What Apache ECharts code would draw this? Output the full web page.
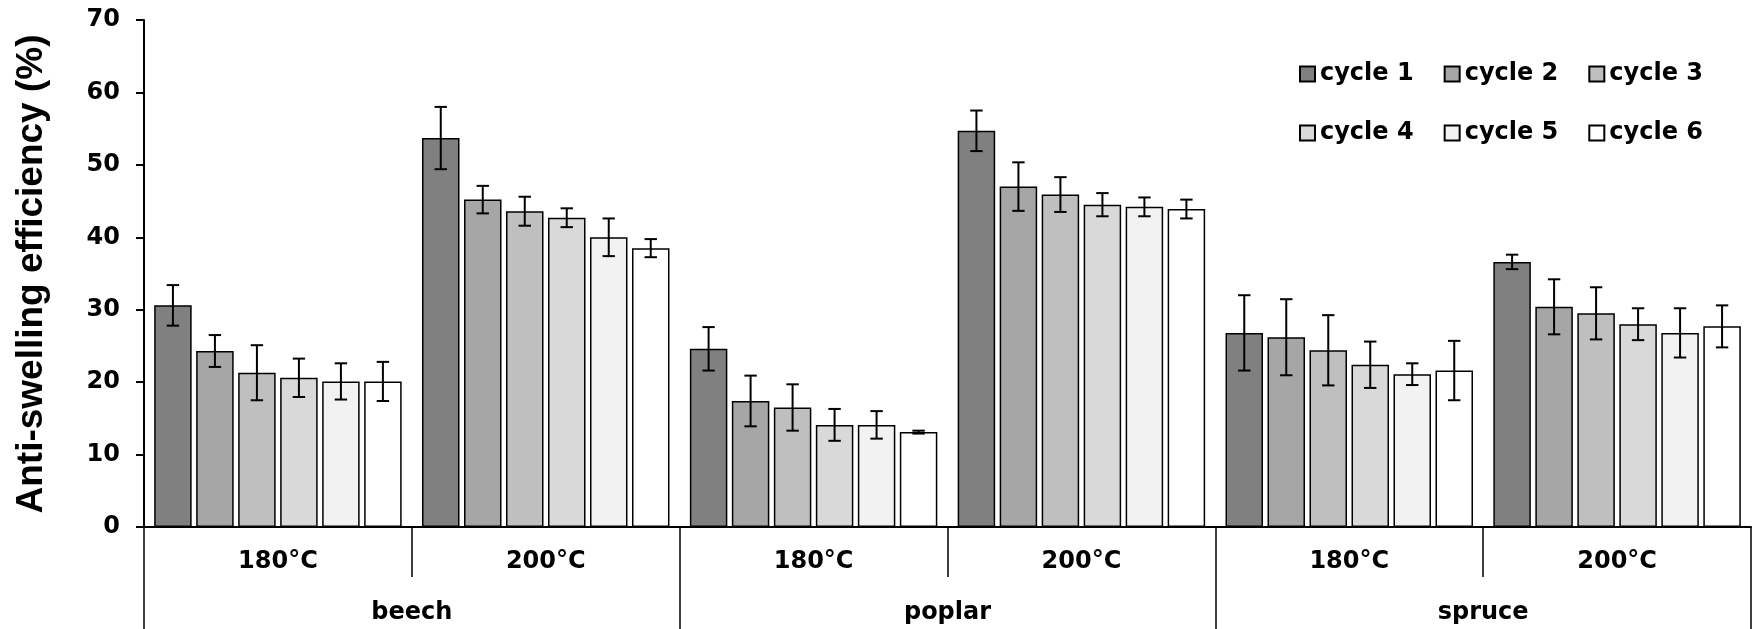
<!DOCTYPE html>
<html>
<head>
<meta charset="utf-8">
<script src="https://cdn.jsdelivr.net/npm/echarts@6/dist/echarts.min.js"></script>
<style>
html, body { margin: 0; padding: 0; background: #ffffff; }
#chart { width: 1756px; height: 629px; }
</style>
</head>
<body>
<div id="chart"></div>
<script>
// ---- data ----
const tempLabels = ['180°C', '200°C', '180°C', '200°C', '180°C', '200°C'];
const woodLabels = ['beech', 'poplar', 'spruce'];
const seriesNames = ['cycle 1', 'cycle 2', 'cycle 3', 'cycle 4', 'cycle 5', 'cycle 6'];
const yTicks = [0, 10, 20, 30, 40, 50, 60, 70];

const cycle1 = [30.6, 53.7, 24.6, 54.7, 26.8, 36.6];
const cycle2 = [24.3, 45.2, 17.4, 47.0, 26.2, 30.4];
const cycle3 = [21.3, 43.6, 16.5, 45.9, 24.4, 29.5];
const cycle4 = [20.6, 42.7, 14.1, 44.5, 22.4, 28.0];
const cycle5 = [20.1, 40.0, 14.1, 44.2, 21.1, 26.8];
const cycle6 = [20.1, 38.5, 13.1, 43.9, 21.6, 27.7];

const err1 = [2.8, 4.3, 3.0, 2.8, 5.2, 1.0];
const err2 = [2.2, 1.9, 3.5, 3.35, 5.25, 3.8];
const err3 = [3.8, 2.0, 3.2, 2.4, 4.85, 3.6];
const err4 = [2.65, 1.3, 2.2, 1.6, 3.2, 2.2];
const err5 = [2.5, 2.6, 1.9, 1.3, 1.5, 3.4];
const err6 = [2.7, 1.25, 0.2, 1.3, 4.1, 2.9];

// ---- styling ----
const colors = ['#808080', '#a6a6a6', '#bfbfbf', '#d9d9d9', '#f2f2f2', '#ffffff'];
const FONT = 'DejaVu Sans';
const CAT_GAP = 0.076;
const BAR_GAP = 0.12;
const N = 6;

const values = [cycle1, cycle2, cycle3, cycle4, cycle5, cycle6];
const errors = [err1, err2, err3, err4, err5, err6];

const barSeries = values.map((vals, i) => ({
  name: seriesNames[i],
  type: 'bar',
  xAxisIndex: 0,
  yAxisIndex: 0,
  data: vals,
  barCategoryGap: (CAT_GAP * 100) + '%',
  barGap: (BAR_GAP * 100) + '%',
  itemStyle: { color: colors[i], borderColor: '#000000', borderWidth: 1.5 },
  z: 2
}));

const errSeries = values.map((vals, i) => ({
  name: 'err ' + (i + 1),
  type: 'custom',
  xAxisIndex: 0,
  yAxisIndex: 0,
  z: 5,
  silent: true,
  encode: { x: 0, y: [1, 2] },
  data: vals.map((v, k) => [k, v - errors[i][k], v + errors[i][k]]),
  renderItem: function (params, api) {
    const k = api.value(0);
    const lo = api.value(1);
    const hi = api.value(2);
    const band = api.size([1, 0])[0];
    const usable = band * (1 - CAT_GAP);
    const bw = usable / (N + (N - 1) * BAR_GAP);
    const offset = -usable / 2 + i * bw * (1 + BAR_GAP) + bw / 2;
    const pTop = api.coord([k, hi]);
    const pBot = api.coord([k, lo]);
    const x = pTop[0] + offset;
    const cap = 6.2;
    const st = { stroke: '#000000', lineWidth: 2 };
    return {
      type: 'group',
      children: [
        { type: 'line', shape: { x1: x, y1: pTop[1], x2: x, y2: pBot[1] }, style: st },
        { type: 'line', shape: { x1: x - cap, y1: pTop[1], x2: x + cap, y2: pTop[1] }, style: st },
        { type: 'line', shape: { x1: x - cap, y1: pBot[1], x2: x + cap, y2: pBot[1] }, style: st }
      ]
    };
  }
}));

const legendText = { fontFamily: FONT, fontWeight: 'bold', fontSize: 24, color: '#000000' };

const option = {
  animation: false,
  backgroundColor: '#ffffff',
  grid: { left: 144, right: 5, top: 20, bottom: 102, containLabel: false },
  legend: [
    {
      data: seriesNames.slice(0, 3), left: 1299, top: 62, padding: 0, itemWidth: 15, itemHeight: 15,
      itemGap: 30, selectedMode: false, icon: 'rect', textStyle: legendText
    },
    {
      data: seriesNames.slice(3, 6), left: 1299, top: 121, padding: 0, itemWidth: 15, itemHeight: 15,
      itemGap: 30, selectedMode: false, icon: 'rect', textStyle: legendText
    }
  ],
  xAxis: [
    {
      type: 'category',
      position: 'bottom',
      data: tempLabels,
      axisLine: { show: true, onZero: false, lineStyle: { color: '#000000', width: 2 } },
      axisTick: { show: true, inside: false, length: 50, interval: 0, lineStyle: { color: '#000000', width: 1.5 } },
      axisLabel: { interval: 0, margin: 23, fontFamily: FONT, fontWeight: 'bold', fontSize: 24, color: '#000000' },
      splitLine: { show: false }
    },
    {
      type: 'category',
      position: 'bottom',
      data: woodLabels,
      axisLine: { show: false, onZero: false },
      axisTick: { show: true, inside: false, length: 102, interval: 0, lineStyle: { color: '#000000', width: 1.5 } },
      axisLabel: { interval: 0, margin: 74, fontFamily: FONT, fontWeight: 'bold', fontSize: 24, color: '#000000' },
      splitLine: { show: false }
    }
  ],
  yAxis: {
    type: 'value',
    min: yTicks[0],
    max: yTicks[yTicks.length - 1],
    interval: yTicks[1] - yTicks[0],
    axisLine: { show: true, lineStyle: { color: '#000000', width: 2 } },
    axisTick: { show: true, inside: false, length: 8, lineStyle: { color: '#000000', width: 2 } },
    axisLabel: { margin: 24, fontFamily: FONT, fontWeight: 'bold', fontSize: 24, color: '#000000' },
    splitLine: { show: false }
  },
  graphic: [
    {
      type: 'text',
      x: 32,
      y: 274,
      rotation: Math.PI / 2,
      style: {
        text: 'Anti-swelling efficiency (%)',
        fontFamily: 'Liberation Sans',
        fontWeight: 'bold',
        fontSize: 37,
        fill: '#000000',
        align: 'center',
        verticalAlign: 'middle',
        textAlign: 'center',
        textVerticalAlign: 'middle'
      }
    }
  ],
  series: barSeries.concat(errSeries)
};

const chart = echarts.init(document.getElementById('chart'), null, { renderer: 'canvas' });
chart.setOption(option);
</script>
</body>
</html>
